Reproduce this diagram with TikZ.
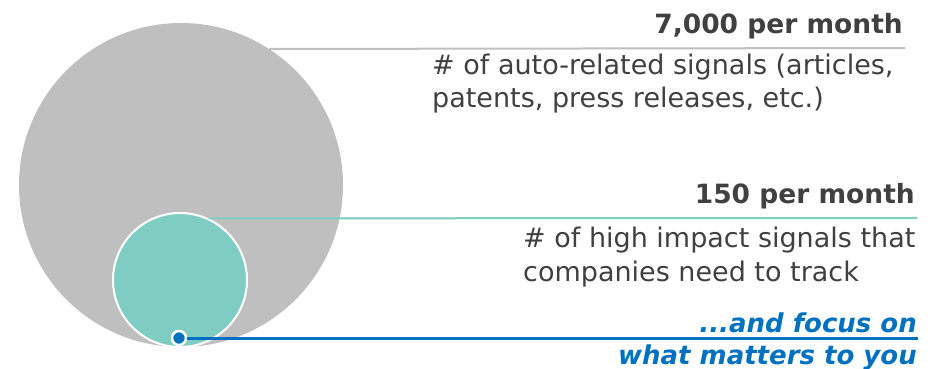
\documentclass[tikz,border=0pt]{standalone}
\usepackage{fontspec}
\setmainfont{DejaVu Sans}
\definecolor{signalgray}{HTML}{BFBFBF}
\definecolor{impactteal}{HTML}{7FCDC2}
\definecolor{focusblue}{HTML}{0070C0}
\definecolor{textgray}{HTML}{404040}

\begin{document}
\begin{tikzpicture}[x=1pt,y=-1pt]

  \tikzstyle{bubble}=[circle,inner sep=0pt]
  \tikzstyle{all bubble}=[bubble,fill=signalgray,minimum size=324pt]
  \tikzstyle{impact bubble}=[bubble,fill=impactteal,draw=white,line width=2pt,minimum size=134pt]
  \tikzstyle{focus dot}=[bubble,fill=focusblue,draw=white,line width=2.5pt,minimum size=14pt]
  \tikzstyle{leader}=[line width=2pt]
  \tikzstyle{count}=[font=\fontsize{26.5}{32}\selectfont\bfseries,text=textgray,anchor=base east,inner sep=0pt]
  \tikzstyle{caption}=[font=\fontsize{27}{33.5}\selectfont,text=textgray,anchor=base west,align=left,inner sep=0pt]
  \tikzstyle{focus text}=[font=\fontsize{26}{32}\selectfont\bfseries\itshape,text=focusblue,anchor=base east,align=right,inner sep=0pt]

  \useasboundingbox (0,0) rectangle (941,368);

  % circles
  \node[all bubble]    (all)    at (181,185) {};
  \node[impact bubble] (impact) at (180,280) {};
  \coordinate (all end)    at (905,48);
  \coordinate (impact end) at (917,218);
  \coordinate (focus end)  at (918,338);

  % leaders
  \draw[leader,signalgray] (all.57.7) -- (all end);
  \draw[leader,impactteal] (impact.65.6) -- (impact end);
  \node[focus dot] (focus) at (179,338) {};
  \draw[leader,focusblue,line width=3pt] (focus) -- (focus end);

  % labels (base = last line)
  \node[count] (all count) at (903,33) {7,000 per month};
  \node[caption] (all text) at (432,107.5) {\# of auto-related signals (articles,\\patents, press releases, etc.)};
  \node[count] (impact count) at (915,203) {150 per month};
  \node[caption] (impact text) at (523,281) {\# of high impact signals that\\companies need to track};
  \node[focus text] (focus label) at (917,364) {...and focus on\\what matters to you};

\end{tikzpicture}
\end{document}
